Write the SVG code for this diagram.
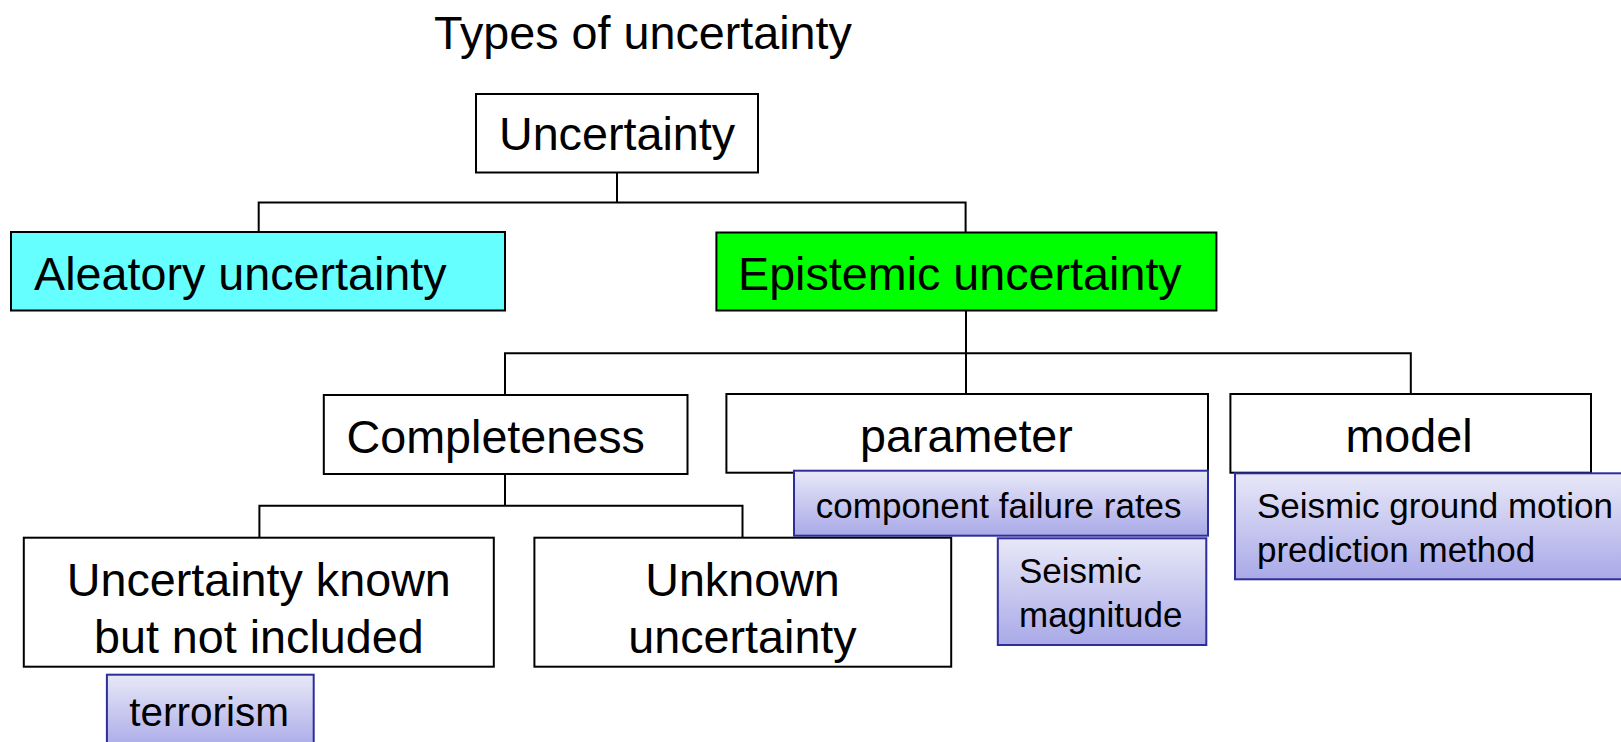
<svg xmlns="http://www.w3.org/2000/svg" width="1621" height="742" viewBox="0 0 1621 742">
<defs>
<linearGradient id="lav" x1="0" y1="0" x2="0" y2="1">
<stop offset="0" stop-color="#e8e8f8"/>
<stop offset="1" stop-color="#a9a9e8"/>
</linearGradient>
<style>
text{font-family:"Liberation Sans",Arial,sans-serif;fill:#000}
.big{font-size:46.7px}
.mid{font-size:40.5px}
.sm{font-size:35px}
.box{fill:#fff;stroke:#000;stroke-width:2}
.note{fill:url(#lav);stroke:#2e2e9a;stroke-width:2}
.c{text-anchor:middle}
.conn{fill:none;stroke:#000;stroke-width:2}
</style>
</defs>
<rect width="1621" height="742" fill="#fff"/>
<text class="big c" x="643" y="49">Types of uncertainty</text>
<g id="connectors">
<path class="conn" d="M617 172.5V202.5M258.7 232V202.5H965.6V232"/>
<path class="conn" d="M966 310.5V353.3M505 394V353.3H1410.8V394M966 353.3V394"/>
<path class="conn" d="M505 474V505.7M259.4 537.7V505.7H742.5V537.7"/>
</g>
<g id="n-uncertainty"><rect class="box" x="476" y="94" width="282" height="78.5"/><text class="big c" x="617" y="150">Uncertainty</text></g>
<g id="n-aleatory"><rect x="11" y="232" width="494" height="78.5" fill="#66ffff" stroke="#000" stroke-width="2"/><text class="big" x="34" y="290">Aleatory uncertainty</text></g>
<g id="n-epistemic"><rect x="716.4" y="232.5" width="500" height="78" fill="#00ff00" stroke="#000" stroke-width="2"/><text class="big" x="738" y="290">Epistemic uncertainty</text></g>
<g id="n-completeness"><rect class="box" x="323.8" y="395" width="363.7" height="79"/><text class="big c" x="495.7" y="453">Completeness</text></g>
<g id="n-parameter"><rect class="box" x="726.4" y="394" width="481.6" height="78.7"/><text class="big c" x="966.5" y="452">parameter</text></g>
<g id="n-model"><rect class="box" x="1230.4" y="394" width="360.6" height="78.7"/><text class="big c" x="1409" y="452">model</text></g>
<g id="n-known"><rect class="box" x="23.8" y="537.7" width="470" height="129"/><text class="big c" x="258.8" y="596">Uncertainty known</text><text class="big c" x="258.8" y="652.5">but not included</text></g>
<g id="n-unknown"><rect class="box" x="534.4" y="537.7" width="416.8" height="129"/><text class="big c" x="742.5" y="596">Unknown</text><text class="big c" x="742.5" y="652.5">uncertainty</text></g>
<g id="n-terrorism"><rect class="note" x="106.9" y="674.7" width="206.8" height="75"/><text class="mid c" x="209" y="726">terrorism</text></g>
<g id="n-component"><rect class="note" x="794" y="470.7" width="414" height="65"/><text class="sm c" x="998.7" y="517.5">component failure rates</text></g>
<g id="n-magnitude"><rect class="note" x="997.8" y="538.3" width="208.5" height="106.7"/><text class="sm" x="1019" y="583">Seismic</text><text class="sm" x="1019" y="627">magnitude</text></g>
<g id="n-ground"><rect class="note" x="1235" y="473.3" width="400" height="106"/><text class="sm" x="1257" y="518">Seismic ground motion</text><text class="sm" x="1257" y="562">prediction method</text></g>
</svg>
